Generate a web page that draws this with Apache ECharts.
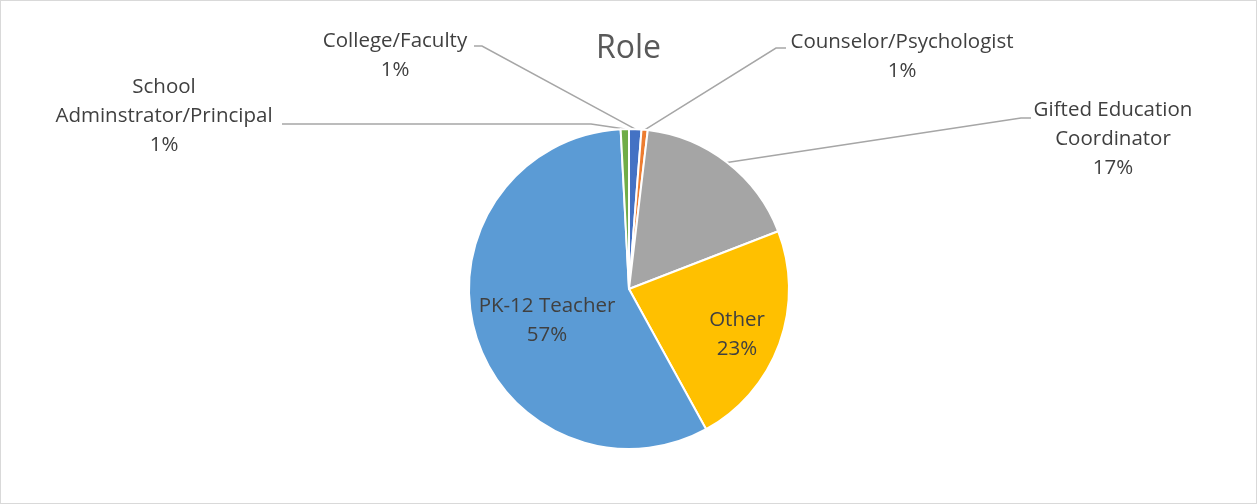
<!DOCTYPE html>
<html>
<head>
<meta charset="utf-8">
<script src="https://cdn.jsdelivr.net/npm/echarts@6/dist/echarts.min.js"></script>
<style>
  html, body { margin: 0; padding: 0; background: #fff; }
  #chart { width: 1255px; height: 502px; border: 1px solid #d9d9d9; }
</style>
</head>
<body>
<div id="chart"></div>
<script>
// respondents by role (counts)
const roles = ['College/Faculty', 'Counselor/Psychologist', 'Gifted Education\nCoordinator', 'Other', 'PK-12 Teacher', 'School\nAdminstrator/Principal']
const counts = [6, 3, 83, 110, 275, 4]
const colors = ['#4472C4', '#ED7D31', '#A5A5A5', '#FFC000', '#5B9BD5', '#70AD47']

// where each label sits: [centerX, centerY, elbowX, lineY, lineEndX]
const labelSpots = [
  [394, 55, 481, 45, 473],
  [901, 56, 775, 47, 785],
  [1112, 138, 1020, 117, 1030],
  [736, 334],
  [546, 320],
  [163, 115, 590, 123, 281]
]

const mChart = echarts.init(document.getElementById('chart'))
const font = '"Open Sans", "Liberation Sans", sans-serif'

const option = {
  animation: false,
  title: {
    text: 'Role',
    left: 'center',
    top: 27,
    textStyle: { color: '#595959', fontSize: 32, fontWeight: 'normal', fontFamily: font }
  },
  series: [
    {
      type: 'pie',
      center: [628, 288],
      radius: 160,
      startAngle: 90,
      clockwise: true,
      percentPrecision: 0,
      itemStyle: { borderColor: '#fff', borderWidth: 2 },
      label: {
        formatter: '{b}\n{d}%',
        color: '#404040',
        fontSize: 20.5,
        lineHeight: 29,
        fontFamily: font,
        align: 'center'
      },
      labelLine: {
        show: true,
        lineStyle: { color: '#a6a6a6', width: 1.5 }
      },
      labelLayout(params) {
        const s = labelSpots[params.dataIndex]
        const out = { x: s[0], y: s[1], align: 'center', verticalAlign: 'middle' }
        if (s.length > 2 && params.labelLinePoints) {
          const p0 = params.labelLinePoints[0]
          out.labelLinePoints = [p0, [s[2], s[3]], [s[4], s[3]]]
        }
        return out
      },
      data: roles.map((name, i) => ({
        name: name,
        value: counts[i],
        itemStyle: { color: colors[i] },
        labelLine: { show: i !== 3 && i !== 4 }
      }))
    }
  ]
}
mChart.setOption(option)
</script>
</body>
</html>
